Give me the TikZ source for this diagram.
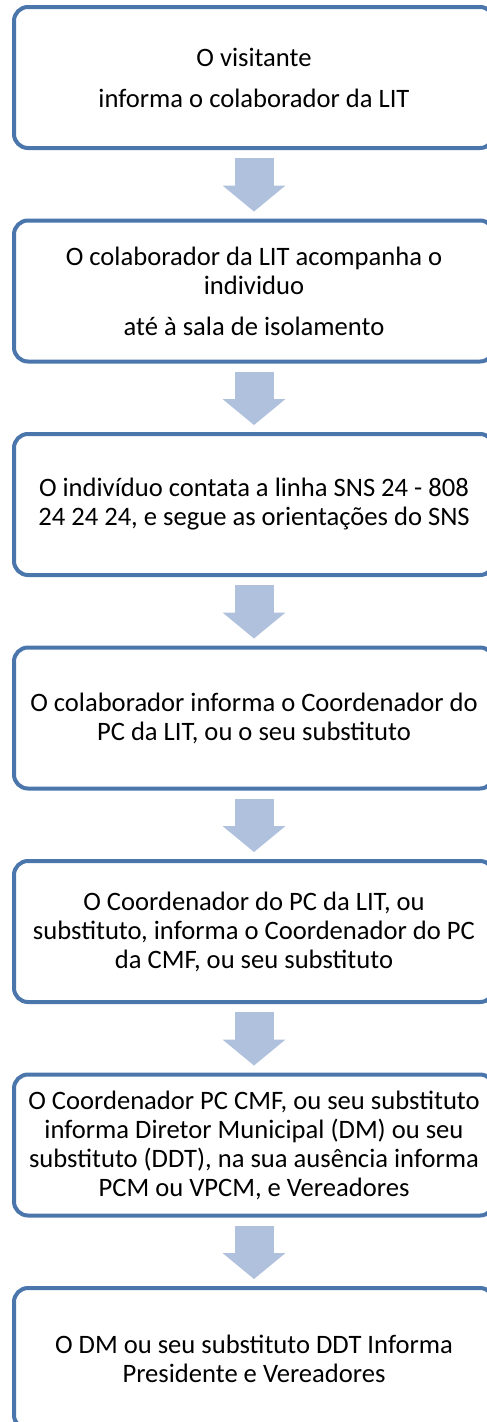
\documentclass[tikz,border=0pt]{standalone}
\usepackage{fontspec}
\setmainfont{Carlito}
\usetikzlibrary{positioning,arrows.meta}

\definecolor{boxline}{RGB}{74,118,171}
\definecolor{arrowfill}{RGB}{176,193,222}

\tikzset{
  stepbox/.style={draw=boxline, line width=4pt, rounded corners=14pt,
    minimum width=480pt, minimum height=141pt, inner sep=0pt,
    align=center, font=\fontsize{26.6}{29}\selectfont},
  blockarrow/.style={draw=arrowfill, line width=39pt,
    -{Triangle[width=63pt,length=26pt,line width=0pt]},
    shorten <=8pt, shorten >=7pt}
}

\begin{document}
\begin{tikzpicture}[node distance=68.5pt]

\clip[use as bounding box] (0,0) rectangle (487pt,-1422pt);

\node[stepbox] (visitante) at (254pt,-77.5pt) {O visitante\\[12pt]informa o colaborador da LIT};
\node[stepbox, below=of visitante] (acompanha) {O colaborador da LIT acompanha o\\individuo\\[12pt]até à sala de isolamento};
\node[stepbox, below=of acompanha] (contacto) {O indivíduo contata a linha SNS 24 - 808\\24 24 24, e segue as orientações do SNS};
\node[stepbox, below=of contacto] (coordLIT) {O colaborador informa o Coordenador do\\PC da LIT, ou o seu substituto};
\node[stepbox, below=of coordLIT] (coordCMF) {O Coordenador do PC da LIT, ou\\substituto, informa o Coordenador do PC\\da CMF, ou seu substituto};
\node[stepbox, below=of coordCMF] (diretor) {O Coordenador PC CMF, ou seu substituto\\informa Diretor Municipal (DM) ou seu\\substituto (DDT), na sua ausência informa\\PCM ou VPCM, e Vereadores};
\node[stepbox, below=of diretor] (presidente) {O DM ou seu substituto DDT Informa\\Presidente e Vereadores};

\draw[blockarrow] (visitante) -- (acompanha);
\draw[blockarrow] (acompanha) -- (contacto);
\draw[blockarrow] (contacto) -- (coordLIT);
\draw[blockarrow] (coordLIT) -- (coordCMF);
\draw[blockarrow] (coordCMF) -- (diretor);
\draw[blockarrow] (diretor) -- (presidente);

\end{tikzpicture}
\end{document}
